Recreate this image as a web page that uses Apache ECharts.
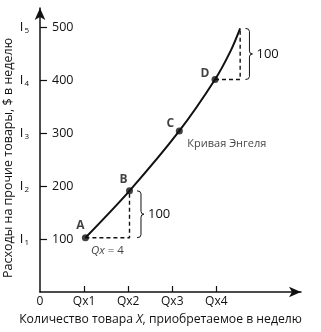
<!DOCTYPE html>
<html>
<head>
<meta charset="utf-8">
<script src="https://cdn.jsdelivr.net/npm/echarts@6/dist/echarts.min.js"></script>
<style>
html,body{margin:0;padding:0;background:#fff;}
#chart{width:321px;height:332px;}
</style>
</head>
<body>
<div id="chart"></div>
<script>
// ---- data ----
const quantityTicks = [0, 1, 2, 3, 4];
const quantityLabels = ['0', 'Qx1', 'Qx2', 'Qx3', 'Qx4'];
const incomeTicks = [100, 200, 300, 400, 500];
const incomeSubscripts = ['1', '2', '3', '4', '5'];
const curveX = [1.03, 2.03, 3.16, 3.97, 4.33, 4.54];
const curveY = [102.5, 191, 304, 401, 456, 497.5];
const pointNames = ['A', 'B', 'C', 'D'];
const pointX = [1.03, 2.03, 3.16, 3.97];
const pointY = [102.5, 191, 304, 401];
const braceX = [2.2, 4.66];
const braceLow = [102.5, 401];
const braceHigh = [191, 497.5];
const braceText = ['100', '100'];
const curveName = 'Кривая Энгеля';
const deltaLabel = '= 4';
const xTitle = ['Количество товара ', 'X', ', приобретаемое в неделю'];
const yTitle = 'Расходы на прочие товары, $ в неделю';

const FONT = 'Open Sans';
const chart = echarts.init(document.getElementById('chart'), null, {renderer: 'canvas'});

const curveData = curveX.map((x, i) => [x, curveY[i]]);
const labelOffsets = {A: [-5, -12], B: [-6, -11], C: [-9, -7], D: [-10, -6]};
const pointData = pointNames.map((n, i) => ({
  name: n, value: [pointX[i], pointY[i]],
  label: {show: true, formatter: n, position: 'inside', offset: labelOffsets[n],
    fontFamily: FONT, fontWeight: 'bold', fontSize: 12, color: '#111'}
}));
// dashed helper lines: from A to below B, from D to below curve end
const dashA = [[pointX[0], pointY[0]], [pointX[1], pointY[0]], [pointX[1], pointY[1]]];
const lastI = curveX.length - 1;
const dashD = [[pointX[3], pointY[3]], [curveX[lastI], pointY[3]], [curveX[lastI], curveY[lastI]]];

const braceData = braceX.map((x, i) => [x, braceLow[i], braceHigh[i], braceText[i]]);

const option = {
  animation: false,
  backgroundColor: '#fff',
  grid: {left: 40, top: 8, width: 261, height: 284, containLabel: false},
  xAxis: {
    type: 'value', min: 0, max: 5.92,
    axisLine: {show: true, symbol: ['none', 'arrow'], symbolSize: [8, 12], lineStyle: {color: '#111', width: 1.5}},
    axisTick: {show: true, inside: true, length: 6, customValues: [1, 2, 3, 4], lineStyle: {color: '#111', width: 1.2}},
    axisLabel: {customValues: quantityTicks, margin: 4, fontFamily: FONT, fontSize: 12, color: '#111',
      formatter: v => quantityLabels[quantityTicks.indexOf(Math.round(v))] || ''},
    splitLine: {show: false}
  },
  yAxis: [{
    type: 'value', min: 0, max: 536,
    axisLine: {show: true, symbol: ['none', 'arrow'], symbolSize: [8, 12], lineStyle: {color: '#111', width: 1.5}},
    axisTick: {show: true, inside: true, length: 7, customValues: incomeTicks, lineStyle: {color: '#111', width: 1.2}},
    axisLabel: {inside: true, customValues: incomeTicks, margin: 12, fontFamily: FONT, fontSize: 12.5, color: '#111'},
    splitLine: {show: false}
  }, {
    type: 'value', min: 0, max: 536, position: 'left',
    axisLine: {show: false}, axisTick: {show: false},
    axisLabel: {customValues: incomeTicks, margin: 11, color: '#111',
      formatter: v => '{i|I}{s|' + incomeSubscripts[incomeTicks.indexOf(v)] + '}',
      rich: {i: {fontFamily: FONT, fontSize: 13, color: '#111'},
             s: {fontFamily: FONT, fontSize: 8, color: '#111', verticalAlign: 'bottom', padding: [8, 0, 0, 1]}}},
    splitLine: {show: false}
  }],
  series: [
    {type: 'line', data: curveData, smooth: 0.3, showSymbol: false,
     lineStyle: {color: '#111', width: 2}, z: 3},
    {type: 'line', data: dashA, showSymbol: false, lineStyle: {color: '#111', width: 1.4, type: [4, 3]}, z: 2},
    {type: 'line', data: dashD, showSymbol: false, lineStyle: {color: '#111', width: 1.4, type: [4, 3]}, z: 2},
    {type: 'scatter', data: pointData, symbolSize: 7, itemStyle: {color: '#111'}, z: 4},
    // curve caption and Qx label, anchored to points
    {type: 'scatter', symbolSize: 0, z: 5, silent: true,
     data: [
       {value: [pointX[2], pointY[2]], label: {show: true, position: 'inside', align: 'left', offset: [8, 13],
         formatter: curveName, fontFamily: FONT, fontSize: 11, color: '#111'}},
       {value: [(pointX[0] + pointX[1]) / 2, pointY[0]], label: {show: true, position: 'inside', offset: [0, 13],
         formatter: '{q|Qx}{e| ' + deltaLabel + '}',
         rich: {q: {fontFamily: FONT, fontStyle: 'italic', fontSize: 11.5, color: '#111'},
                e: {fontFamily: FONT, fontSize: 11.5, color: '#111'}}}}
     ]},
    {type: 'custom', z: 5, silent: true, data: braceData,
     renderItem: function (params, api) {
       const x = api.value(0);
       const top = api.coord([x, api.value(2)]);
       const bot = api.coord([x, api.value(1)]);
       const bx = top[0], yt = top[1], yb = bot[1], ym = (yt + yb) / 2;
       const w = 4;
       const d = `M${bx},${yt} Q${bx + w},${yt} ${bx + w},${yt + 3} L${bx + w},${ym - 3} Q${bx + w},${ym} ${bx + w + 3},${ym} ` +
                 `Q${bx + w},${ym} ${bx + w},${ym + 3} L${bx + w},${yb - 3} Q${bx + w},${yb} ${bx},${yb}`;
       return {type: 'group', children: [
         {type: 'path', shape: {pathData: d}, style: {fill: 'none', stroke: '#111', lineWidth: 1}},
         {type: 'text', style: {x: bx + 11, y: ym, text: api.value(3), fontFamily: FONT, fontSize: 13,
           fill: '#111', verticalAlign: 'middle', align: 'left'}}
       ]};
     }}
  ],
  graphic: [
    {type: 'text', left: 'center', top: 314, style: {
      text: '{n|' + xTitle[0] + '}{it|' + xTitle[1] + '}{n|' + xTitle[2] + '}',
      rich: {n: {fontFamily: FONT, fontSize: 12.2, fill: '#111'},
             it: {fontFamily: FONT, fontSize: 12.2, fontStyle: 'italic', fill: '#111'}}}},
    {type: 'text', x: 2, y: 158, rotation: Math.PI / 2, style: {
      text: yTitle, fontFamily: FONT, fontSize: 12.5, fill: '#111', align: 'center', verticalAlign: 'top'}}
  ]
};
chart.setOption(option);
</script>
</body>
</html>
